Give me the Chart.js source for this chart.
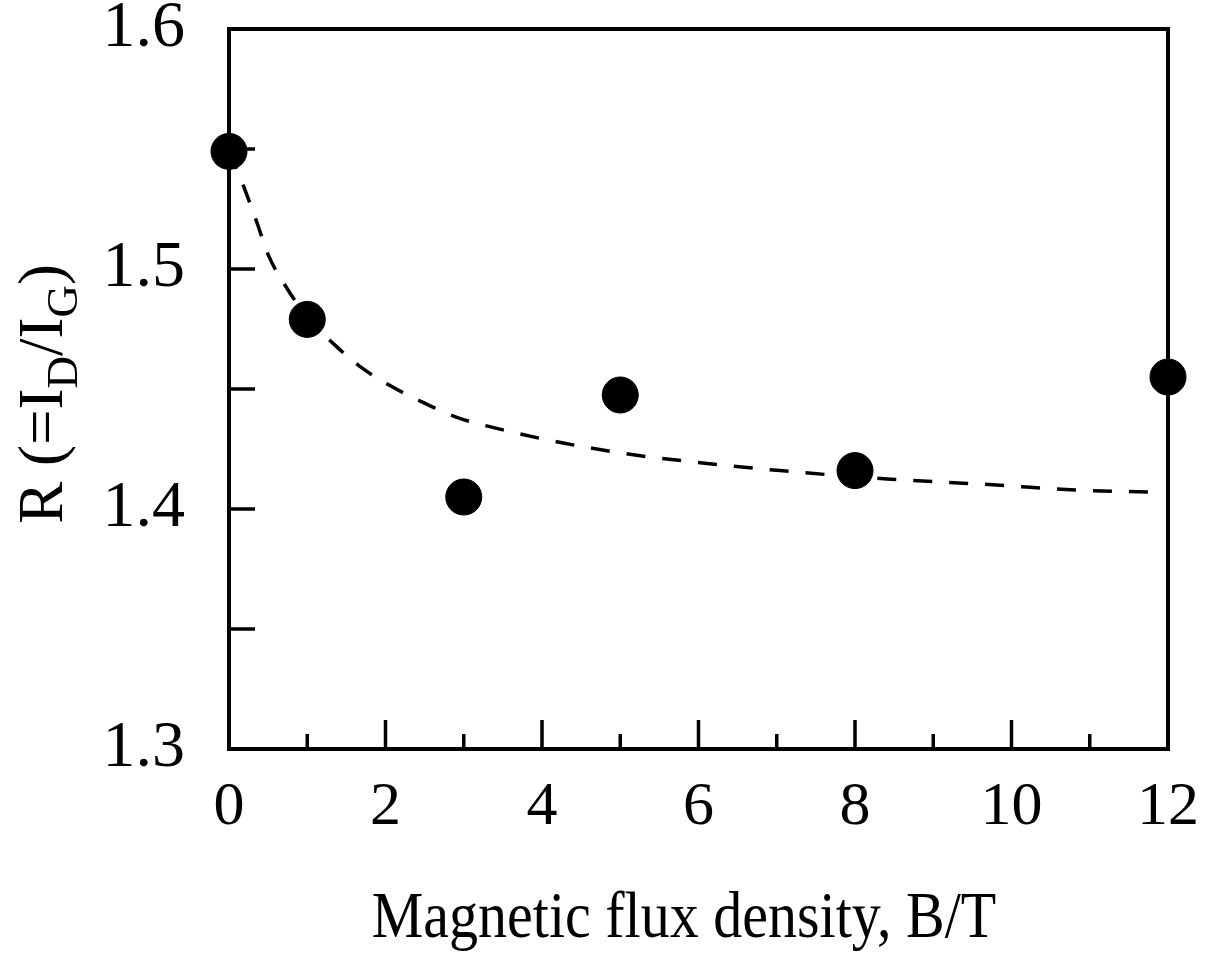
<!DOCTYPE html>
<html>
<head>
<meta charset="utf-8">
<script src="https://cdn.jsdelivr.net/npm/chart.js@4.4.1/dist/chart.umd.min.js"></script>
<style>
  html, body { margin: 0; padding: 0; background: #fff; }
  #wrap { width: 1206px; height: 953px; }
</style>
</head>
<body>
<div id="wrap"><canvas id="chart" width="1206" height="953"></canvas></div>
<script>
// measured points
const fieldB = [0, 1, 3, 5, 8, 12];
const ratioR = [1.549, 1.479, 1.405, 1.4475, 1.416, 1.455];

// dashed fit curve
const fitB = [0, 0.18, 0.35, 0.5, 0.74, 1.0, 1.33, 1.69, 2.08, 2.44, 2.93, 3.37, 4.27, 5.19, 6.11, 7.04, 8.41, 9.81, 10.75, 11.8];
const fitR = [1.549, 1.535, 1.52, 1.506, 1.492, 1.480, 1.469, 1.459, 1.451, 1.445, 1.438, 1.434, 1.4275, 1.4225, 1.419, 1.416, 1.4125, 1.41, 1.408, 1.407];

const xMajor = [0, 2, 4, 6, 8, 10, 12];
const xMinor = [1, 3, 5, 7, 9, 11];
const yMajor = [1.3, 1.4, 1.5, 1.6];
const yMarks = [1.35, 1.4, 1.45, 1.5, 1.55];

const xTitle = 'Magnetic flux density, B/T';
const serif = "'Liberation Serif', 'DejaVu Serif', serif";

// frame, inward ticks and the axis titles
const framePlugin = {
    id: 'frame',
    afterDatasetsDraw(chart) {
        const { ctx, chartArea: a, scales } = chart;
        ctx.save();
        ctx.strokeStyle = '#000';
        ctx.lineCap = 'butt';

        ctx.lineWidth = 3.5;
        ctx.beginPath();
        xMajor.forEach(v => {
            const px = scales.x.getPixelForValue(v);
            ctx.moveTo(px, a.bottom); ctx.lineTo(px, a.bottom - 29);
        });
        xMinor.forEach(v => {
            const px = scales.x.getPixelForValue(v);
            ctx.moveTo(px, a.bottom); ctx.lineTo(px, a.bottom - 15);
        });
        yMarks.forEach(v => {
            const py = scales.y.getPixelForValue(v);
            ctx.moveTo(a.left, py); ctx.lineTo(a.left + 26, py);
        });
        ctx.stroke();

        ctx.lineWidth = 4;
        ctx.strokeRect(a.left, a.top, a.right - a.left, a.bottom - a.top);
        ctx.restore();
    },
    afterDraw(chart) {
        const { ctx } = chart;
        ctx.save();
        ctx.fillStyle = '#000';
        ctx.textBaseline = 'alphabetic';

        // x title (source lettering is a little tall)
        ctx.save();
        ctx.font = '58px ' + serif;
        ctx.textAlign = 'center';
        ctx.translate(684, 937);
        ctx.scale(1, 1.12);
        ctx.fillText(xTitle, 0, 0);
        ctx.restore();

        // y title with subscripts
        const big = '63px ' + serif;
        const small = '45px ' + serif;
        const parts = [
            ['R (=I', big, 0],
            ['D', small, 15],
            ['/I', big, 0],
            ['G', small, 15],
            [')', big, 0]
        ];
        let total = 0;
        parts.forEach(p => { ctx.font = p[1]; total += ctx.measureText(p[0]).width; });
        ctx.translate(62, 394);
        ctx.rotate(-Math.PI / 2);
        ctx.textAlign = 'left';
        let x = -total / 2;
        parts.forEach(p => {
            ctx.font = p[1];
            ctx.fillText(p[0], x, p[2]);
            x += ctx.measureText(p[0]).width;
        });
        ctx.restore();
    }
};

new Chart(document.getElementById('chart'), {
    type: 'scatter',
    data: {
        datasets: [
            {
                type: 'scatter',
                data: fieldB.map((b, i) => ({ x: b, y: ratioR[i] })),
                backgroundColor: '#000',
                borderColor: '#000',
                pointRadius: 18,
                pointHoverRadius: 18,
                clip: false,
                order: 1
            },
            {
                type: 'line',
                data: fitB.map((b, i) => ({ x: b, y: fitR[i] })),
                borderColor: '#000',
                borderWidth: 3.5,
                borderDash: [19, 17],
                pointRadius: 0,
                fill: false,
                tension: 0.4,
                cubicInterpolationMode: 'monotone',
                clip: false,
                order: 2
            }
        ]
    },
    plugins: [framePlugin],
    options: {
        responsive: false,
        animation: false,
        events: [],
        layout: { padding: { top: 29, right: 38, left: 0, bottom: 0 } },
        plugins: {
            legend: { display: false },
            tooltip: { enabled: false }
        },
        scales: {
            x: {
                type: 'linear',
                min: 0,
                max: 12,
                afterBuildTicks: s => { s.ticks = xMajor.map(v => ({ value: v })); },
                afterFit: s => { s.height = 204; s.paddingLeft = 0; s.paddingRight = 0; },
                grid: { display: false, drawTicks: false },
                border: { display: false },
                ticks: {
                    color: '#000',
                    font: { family: serif, size: 62 },
                    padding: 22,
                    maxRotation: 0,
                    autoSkip: false
                }
            },
            y: {
                type: 'linear',
                min: 1.3,
                max: 1.6,
                afterBuildTicks: s => { s.ticks = yMajor.map(v => ({ value: v })); },
                afterFit: s => { s.width = 229; s.paddingTop = 0; s.paddingBottom = 0; },
                grid: { display: false, drawTicks: false },
                border: { display: false },
                ticks: {
                    color: '#000',
                    font: { family: serif, size: 66 },
                    padding: 44,
                    callback: v => v.toFixed(1)
                }
            }
        }
    }
});
</script>
</body>
</html>
